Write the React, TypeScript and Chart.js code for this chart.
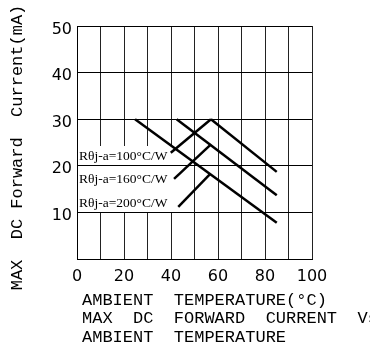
import React, { useEffect, useRef } from 'react';
import { Chart, registerables } from 'chart.js';

Chart.register(...registerables);

// ---- data ----
const labeledTemps = [0, 20, 40, 60, 80, 100];
const seriesLabels = ['Rθj-a=100°C/W', 'Rθj-a=160°C/W', 'Rθj-a=200°C/W'];

const curve100Temp = [57, 85];
const curve100Current = [30, 18.7];
const curve160Temp = [42.4, 85];
const curve160Current = [30, 13.7];
const curve200Temp = [24.7, 85];
const curve200Current = [30, 7.8];

const leader100Temp = [39.9, 57];
const leader100Current = [22.8, 30];
const leader160Temp = [41.3, 57];
const leader160Current = [17.2, 24.6];
const leader200Temp = [43.1, 56.6];
const leader200Current = [11.2, 18.2];

const xTitleLines = ['AMBIENT  TEMPERATURE(°C)', 'MAX  DC  FORWARD  CURRENT  Vs', 'AMBIENT  TEMPERATURE'];
const yTitle = 'MAX  DC Forward  Current(mA)';

const pts = (xs: number[], ys: number[]) => xs.map((x, i) => ({ x, y: ys[i] }));

// label anchor levels (current units) for the series annotations
const LABEL_LEVELS = [22, 17, 12];

const annotPlugin = {
  id: 'annot',
  beforeDatasetsDraw(chart: any) {
    const { ctx } = chart;
    const xs = chart.scales.x;
    const ys = chart.scales.y;
    ctx.save();
    // white label box hiding the grid behind the annotations
    const left = Math.round(xs.getPixelForValue(0)) + 1;
    const right = Math.round(xs.getPixelForValue(40)) + 2;
    const top = Math.round(ys.getPixelForValue(24.3));
    const r20 = Math.round(ys.getPixelForValue(20) - 0.5);
    const r10 = Math.round(ys.getPixelForValue(10) - 0.5);
    ctx.fillStyle = '#fff';
    ctx.fillRect(left, top, right - left, r20 - top);
    ctx.fillRect(left, r20 + 1, right - left, r10 - r20 - 1);
    ctx.fillStyle = '#000';
    ctx.font = '13.5px "Liberation Serif", serif';
    ctx.textAlign = 'left';
    ctx.textBaseline = 'middle';
    seriesLabels.forEach((t, i) => {
      ctx.fillText(t, left + 1, ys.getPixelForValue(LABEL_LEVELS[i]));
    });
    ctx.restore();
  },
  afterDraw(chart: any) {
    const { ctx, chartArea } = chart;
    ctx.save();
    ctx.fillStyle = '#000';
    ctx.font = '17px "Liberation Mono", monospace';
    ctx.textAlign = 'left';
    ctx.textBaseline = 'middle';
    xTitleLines.forEach((t, i) => {
      ctx.fillText(t, chartArea.left + 5, chartArea.bottom + 41 + i * 18.5);
    });
    ctx.translate(17, (chartArea.top + chartArea.bottom) / 2 + 5);
    ctx.rotate(-Math.PI / 2);
    ctx.textAlign = 'center';
    ctx.fillText(yTitle, 0, 0);
    ctx.restore();
  },
};

export default function App() {
  const ref = useRef<HTMLCanvasElement | null>(null);

  useEffect(() => {
    if (!ref.current) return;
    const lineDs = (data: any[]) => ({
      data,
      borderColor: '#000',
      borderWidth: 2.5,
      pointRadius: 0,
      fill: false,
      tension: 0,
    });
    const chart = new Chart(ref.current, {
      type: 'line',
      data: {
        datasets: [
          { label: seriesLabels[0], ...lineDs(pts(curve100Temp, curve100Current)) },
          { label: seriesLabels[1], ...lineDs(pts(curve160Temp, curve160Current)) },
          { label: seriesLabels[2], ...lineDs(pts(curve200Temp, curve200Current)) },
          { label: 'leader 100', ...lineDs(pts(leader100Temp, leader100Current)) },
          { label: 'leader 160', ...lineDs(pts(leader160Temp, leader160Current)) },
          { label: 'leader 200', ...lineDs(pts(leader200Temp, leader200Current)) },
        ],
      },
      options: {
        animation: false,
        responsive: false,
        devicePixelRatio: 1,
        layout: { padding: { top: 26, right: 58, bottom: 0, left: 0 } },
        plugins: { legend: { display: false }, tooltip: { enabled: false }, title: { display: false } },
        scales: {
          x: {
            type: 'linear',
            min: 0,
            max: 100,
            afterFit: (s: any) => { s.height = 87; },
            grid: { color: '#222', lineWidth: 1, drawTicks: false },
            border: { display: true, color: '#000', width: 1 },
            ticks: {
              stepSize: 10,
              autoSkip: false,
              maxRotation: 0,
              padding: 8,
              color: '#000',
              font: { family: '"DejaVu Sans", sans-serif', size: 16 },
              labelOffset: (c: any) => (c.index === 0 ? -9 : c.index === 2 ? -4 : 0),
              callback: (v: any) => (labeledTemps.includes(Number(v)) ? String(v) : ''),
            },
          },
          y: {
            type: 'linear',
            min: 0,
            max: 50,
            afterFit: (s: any) => { s.width = 77; },
            grid: { color: '#000', lineWidth: 1, drawTicks: false },
            border: { display: true, color: '#000', width: 1 },
            ticks: {
              stepSize: 10,
              padding: 5,
              labelOffset: 3.5,
              color: '#000',
              font: { family: '"DejaVu Sans", sans-serif', size: 16 },
              callback: (v: any) => (Number(v) === 0 ? '' : String(v)),
            },
          },
        },
      },
      plugins: [annotPlugin],
    });
    return () => chart.destroy();
  }, []);

  return (
    <div style={{ position: 'fixed', left: 0, top: 0, width: 370, height: 346, background: '#fff' }}>
      <canvas ref={ref} width={370} height={346} style={{ display: 'block', width: 370, height: 346 }} />
    </div>
  );
}
